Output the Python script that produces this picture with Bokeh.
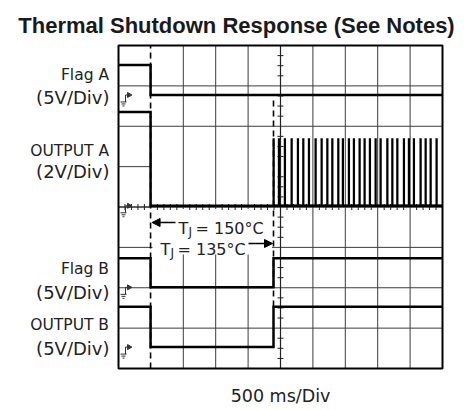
import math
from bokeh.plotting import figure
from bokeh.models import Range1d, Arrow, NormalHead
from bokeh.core.properties import value
from bokeh.embed import file_html
from bokeh.resources import INLINE

# ---------------- data ----------------
TITLE = "Thermal Shutdown Response (See Notes)"
X_LABEL = "500 ms/Div"
MS_PER_DIV = 500
N_XDIV = 10
N_YDIV = 8

channel_names = ["Flag A", "OUTPUT A", "Flag B", "OUTPUT B"]
channel_scales = ["(5V/Div)", "(2V/Div)", "(5V/Div)", "(5V/Div)"]
volts_per_div = [5.0, 2.0, 5.0, 5.0]

t_shutdown_ms = 495      # TJ = 150°C
t_restart_ms = 2392      # TJ = 135°C
t_end_ms = 5000
tj_shutdown = "150°C"
tj_restart = "135°C"

flag_a_t = [0, 495, 495, 5000]
flag_a_v = [3.7, 3.7, 0.0, 0.0]

out_a_t = [0, 495, 495, 2392]
out_a_v = [4.65, 4.65, 0.0, 0.0]
out_a_pulse_t = [2392, 2474, 2566, 2670, 2767, 2850, 2937, 3040, 3133, 3221,
                 3298, 3390, 3461, 3554, 3631, 3719, 3796, 3878, 3966, 4043,
                 4147, 4224, 4301, 4403, 4480, 4557, 4660, 4738, 4815, 4907]
out_a_pulse_v = 3.3
out_a_pulse_ms = 4

flag_b_t = [0, 495, 495, 2392, 2392, 5000]
flag_b_v = [3.6, 3.6, 0.0, 0.0, 3.6, 3.6]

out_b_t = [0, 495, 495, 2392, 2392, 5000]
out_b_v = [5.0, 5.0, 0.0, 0.0, 5.0, 5.0]

# ---------------- layout ----------------
W, H = 464, 410
MPP = MS_PER_DIV / 32.4          # ms per pixel
DPP = N_YDIV / 323.0             # divisions per pixel
gnd_div = [6.775, 4.03, 2.01, 0.53]


def fx(ix):  # picture px -> data x (ms)
    return (ix - 118) * MPP


def fy(iy):  # picture px -> data y (div)
    return (368 - iy) * DPP


p = figure(width=W, height=H, output_backend="svg", toolbar_location=None,
           x_range=Range1d(fx(0), fx(W)), y_range=Range1d(fy(H), fy(0)),
           x_axis_location=None, y_axis_location=None, min_border=0,
           outline_line_color=None, background_fill_color="white",
           border_fill_color="white")
p.grid.visible = False

XMAX = N_XDIV * MS_PER_DIV
# grid
gx = [k * MS_PER_DIV for k in range(2, N_XDIV)]
xs = [[x, x] for x in gx]
ys = [[0, N_YDIV] for _ in gx]
for d in [1, 2, 3, 4, 6, 7]:
    xs.append([0, XMAX]); ys.append([d, d])
xs.append([0, MS_PER_DIV]); ys.append([5, 5])
p.multi_line(xs, ys, line_color="#3c3c3c", line_width=1)

# white area behind the temperature notes
p.quad(left=[fx(152)], right=[fx(271.5)], bottom=[fy(254)], top=[fy(208.5)],
       fill_color="white", line_color=None)

# center axes with minor ticks
cx = XMAX / 2
cy = N_YDIV / 2
p.multi_line([[0, XMAX], [cx, cx]], [[cy, cy], [0, N_YDIV]], line_color="#222", line_width=1.2)
hx = [k * MS_PER_DIV / 5 for k in range(1, N_XDIV * 5) if k % 5]
p.segment(x0=hx, x1=hx, y0=[cy - 3 * DPP] * len(hx), y1=[cy + 3 * DPP] * len(hx),
          line_color="#222", line_width=1)
vy = [k * 0.25 for k in range(1, N_YDIV * 4) if k % 4]
p.segment(x0=[cx - 3 * MPP] * len(vy), x1=[cx + 3 * MPP] * len(vy), y0=vy, y1=vy,
          line_color="#222", line_width=1)

# dashed markers
p.segment(x0=[t_shutdown_ms, t_restart_ms], x1=[t_shutdown_ms, t_restart_ms],
          y0=[0, fy(306)], y1=[N_YDIV, fy(97)], line_color="black",
          line_width=1.6, line_dash="6 4")

# traces
pulse_t, pulse_v = [], []
for tp in out_a_pulse_t:
    pulse_t += [tp, tp, tp + out_a_pulse_ms, tp + out_a_pulse_ms]
    pulse_v += [0.0, out_a_pulse_v, out_a_pulse_v, 0.0]
pulse_t.append(t_end_ms); pulse_v.append(0.0)

traces = [(flag_a_t, flag_a_v, 0), (out_a_t, out_a_v, 1), (flag_b_t, flag_b_v, 2),
          (out_b_t, out_b_v, 3)]
for tt, vv, i in traces:
    yy = [gnd_div[i] + v / volts_per_div[i] for v in vv]
    p.line(tt, yy, line_color="black", line_width=2.5, line_join="miter")
# OUTPUT A restart pulses (thinner strokes, as in the scope capture)
p.line(pulse_t, [gnd_div[1] + v / volts_per_div[1] for v in pulse_v],
       line_color="black", line_width=2.0, line_join="miter")
p.line([out_a_pulse_t[0], t_end_ms], [gnd_div[1], gnd_div[1]],
       line_color="black", line_width=2.5)

# ground markers
gxs, gys, tri_x, tri_y = [], [], [], []
for g in gnd_div:
    gy = 368 - g * 40.375
    segs = [((125, gy), (125, gy + 7)), ((125, gy), (128, gy)),
            ((120, gy + 7), (126, gy + 7)), ((121, gy + 9), (125, gy + 9)),
            ((122, gy + 11), (124, gy + 11))]
    for (a, b) in segs:
        gxs.append([fx(a[0]), fx(b[0])]); gys.append([fy(a[1]), fy(b[1])])
    tri_x.append(fx(128.5)); tri_y.append(fy(gy))
p.multi_line(gxs, gys, line_color="#333", line_width=1)
p.scatter(tri_x, tri_y, marker="triangle", angle=-math.pi / 2, size=5,
          fill_color="#333", line_color="#333")

# border
p.quad(left=[0], right=[XMAX], bottom=[0], top=[N_YDIV], fill_color=None,
       line_color="black", line_width=2)

FONT = value("DejaVu Sans")
TXT = "#222222"
name_base = [74.5, 150.7, 268.3, 324.3]
scale_base = [97, 171, 291.7, 348.3]
p.text(x=[fx(108.5)] * 4, y=[fy(b) for b in name_base], text=channel_names,
       text_font=FONT, text_font_size="15.5px", text_align="right",
       text_baseline="alphabetic", text_color=TXT)
p.text(x=[fx(109)] * 4, y=[fy(b) for b in scale_base], text=channel_scales,
       text_font=FONT, text_font_size="18px", text_align="right",
       text_baseline="alphabetic", text_color=TXT)

# title and x label
p.text(x=[fx(236)], y=[fy(25)], text=[TITLE], text_font=value("Liberation Sans"),
       text_font_style="bold", text_font_size="22px", text_align="center",
       text_baseline="alphabetic", text_color="#1a1a1a")
p.text(x=[fx(280)], y=[fy(395)], text=[X_LABEL], text_font=FONT,
       text_font_size="17.5px", text_align="center", text_baseline="alphabetic",
       text_color=TXT)

# temperature notes
p.text(x=[fx(178), fx(160)], y=[fy(228), fy(249.3)], text=["T", "T"], text_font=FONT,
       text_font_size="16px", text_baseline="alphabetic", text_color=TXT)
p.text(x=[fx(188), fx(170)], y=[fy(231), fy(252.3)], text=["J", "J"], text_font=FONT,
       text_font_size="12px", text_baseline="alphabetic", text_color=TXT)
p.text(x=[fx(195), fx(177)], y=[fy(228), fy(249.3)],
       text=["= " + tj_shutdown, "= " + tj_restart], text_font=FONT,
       text_font_size="16px", text_baseline="alphabetic", text_color=TXT)
p.add_layout(Arrow(end=NormalHead(size=8, fill_color="black", line_color="black"),
                   x_start=fx(175), y_start=fy(222), x_end=t_shutdown_ms + 1.5 * MPP,
                   y_end=fy(222), line_width=1.5, line_color="black"))
p.add_layout(Arrow(end=NormalHead(size=8, fill_color="black", line_color="black"),
                   x_start=fx(248), y_start=fy(243), x_end=t_restart_ms - 1 * MPP,
                   y_end=fy(243), line_width=1.5, line_color="black"))

open("out.html", "w").write(file_html(p, INLINE))
